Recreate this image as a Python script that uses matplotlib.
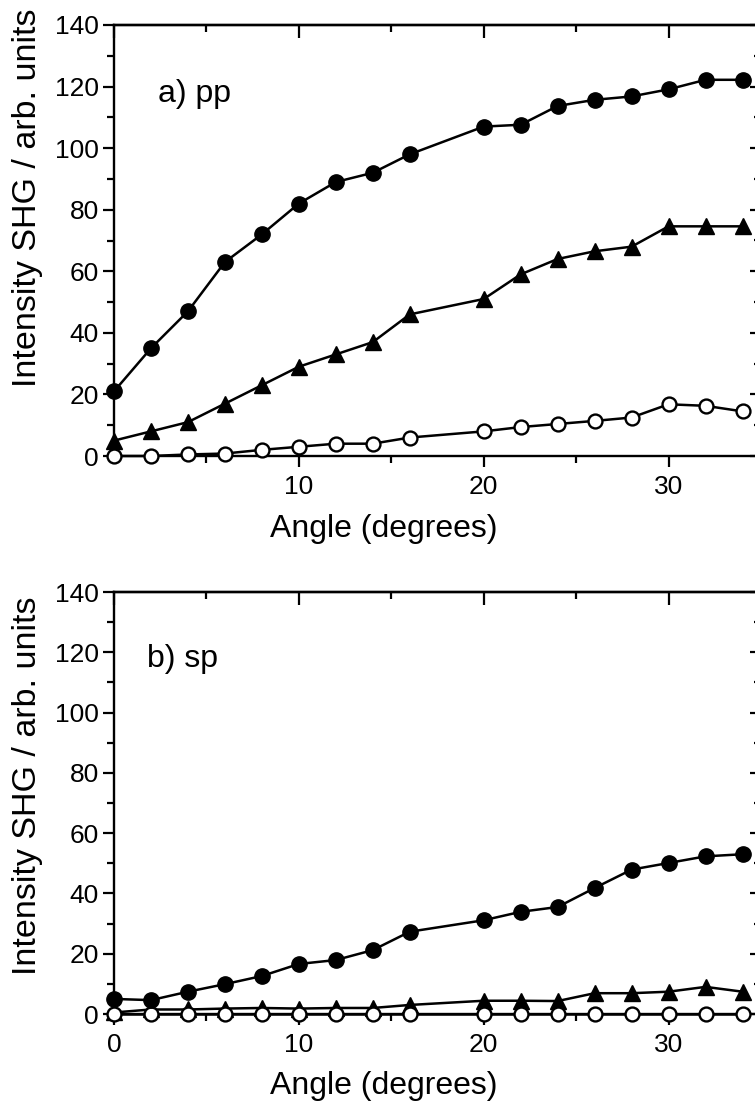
import matplotlib
matplotlib.use("Agg")
import matplotlib.pyplot as plt
from matplotlib.ticker import MultipleLocator

plt.rcParams['font.family'] = ['Liberation Sans', 'DejaVu Sans']

angle = [0, 2, 4, 6, 8, 10, 12, 14, 16, 20, 22, 24, 26, 28, 30, 32, 34]

# a) pp polarisation
pp_filled = [21, 35, 47, 63, 72, 82, 89, 92, 98, 107, 107.6, 113.7, 115.7, 116.8, 119.1, 122.2, 122.2]
pp_triangle = [5, 8, 11, 17, 23, 29, 33, 37, 46, 51, 59, 64, 66.5, 68, 74.6, 74.6, 74.6]
pp_open = [0, 0, 0.5, 0.8, 2, 3, 4, 4, 6, 8, 9.4, 10.4, 11.4, 12.5, 16.8, 16.3, 14.5]

# b) sp polarisation
sp_filled = [5, 4.6, 7.4, 9.9, 12.6, 16.6, 17.9, 21.2, 27.3, 31.1, 33.9, 35.5, 41.8, 47.9, 50.1, 52.3, 53]
sp_triangle = [0.5, 1.5, 1.5, 1.8, 2, 1.8, 2, 2, 3, 4.4, 4.4, 4.3, 6.9, 6.9, 7.4, 9, 7.4]
sp_open = [0] * 17

panel_labels = ["a) pp", "b) sp"]
xlabel = "Angle (degrees)"
ylabel = "Intensity SHG / arb. units"

W, H = 755, 1108
fig = plt.figure(figsize=(W / 100, H / 100), dpi=100)

def px_axes(left, top, right, bottom):
    return fig.add_axes([left / W, 1 - bottom / H, (right - left) / W, (bottom - top) / H])

ax_a = px_axes(114, 25, 761, 456)
ax_b = px_axes(114, 592, 761, 1014)

def style(ax, filled, tri, opn, label, xticks, label_x):
    ax.plot(angle, tri, '-^', color='black', lw=1.8, ms=11, zorder=3, clip_on=False)
    ax.plot(angle, opn, '-o', color='black', lw=1.8, ms=10, mfc='white',
            mec='black', mew=1.7, zorder=4, clip_on=False)
    ax.plot(angle, filled, '-o', color='black', lw=1.8, ms=11, zorder=5, clip_on=False)
    ax.set_xlim(0, 35)
    ax.set_ylim(0, 140)
    for s in ax.spines.values():
        s.set_linewidth(1.7)
    ax.xaxis.set_minor_locator(MultipleLocator(5))
    ax.yaxis.set_major_locator(MultipleLocator(20))
    ax.yaxis.set_minor_locator(MultipleLocator(10))
    ax.set_xticks(xticks)
    ax.tick_params(which='major', direction='out', length=8, width=1.6,
                   labelsize=19, pad=3)
    ax.tick_params(axis='x', which='major', pad=6)
    ax.tick_params(which='minor', direction='out', length=5, width=1.6)
    # inward ticks on the top and right sides
    top = ax.secondary_xaxis('top')
    top.xaxis.set_major_locator(MultipleLocator(10))
    top.xaxis.set_minor_locator(MultipleLocator(5))
    top.tick_params(which='major', direction='in', length=9, width=1.6, labeltop=False)
    top.tick_params(which='minor', direction='in', length=5, width=1.6)
    top.spines['top'].set_linewidth(1.7)
    right = ax.secondary_yaxis('right')
    right.yaxis.set_major_locator(MultipleLocator(20))
    right.yaxis.set_minor_locator(MultipleLocator(10))
    right.tick_params(which='major', direction='in', length=8, width=1.6, labelright=False)
    right.tick_params(which='minor', direction='in', length=5, width=1.6)
    ax.text(label_x, 115, label, fontsize=23, va='baseline', ha='left')
    ax.set_xlabel(xlabel, fontsize=23)
    ax.set_ylabel(ylabel, fontsize=24.5)

style(ax_a, pp_filled, pp_triangle, pp_open, panel_labels[0], [10, 20, 30], 2.4)
style(ax_b, sp_filled, sp_triangle, sp_open, panel_labels[1], [0, 10, 20, 30], 1.8)

ax_a.xaxis.set_label_coords(0.417, -0.135)
ax_b.xaxis.set_label_coords(0.417, -0.135)
ax_a.yaxis.set_label_coords(-0.11, 0.6)
ax_b.yaxis.set_label_coords(-0.11, 0.54)

fig.savefig("out.png", dpi=100)
